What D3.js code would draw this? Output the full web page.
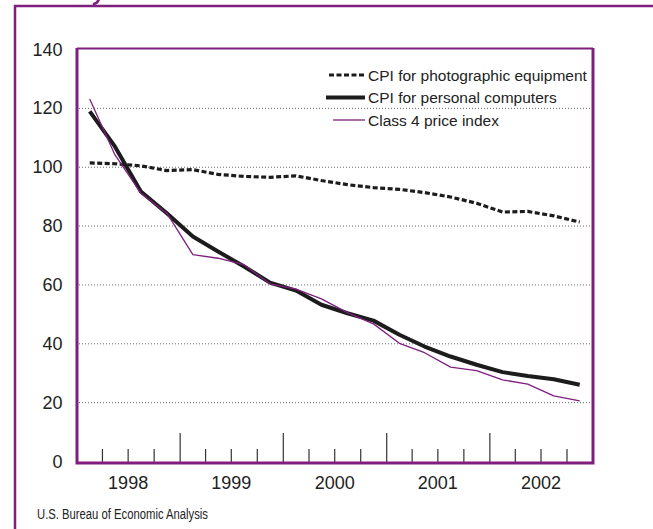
<!DOCTYPE html>
<html>
<head>
<meta charset="utf-8">
<script src="https://cdn.jsdelivr.net/npm/d3@7/dist/d3.min.js"></script>
<style>
  html, body { margin: 0; padding: 0; background: #fff; }
  svg { display: block; font-family: "Liberation Sans", Arial, Helvetica, sans-serif; }
</style>
</head>
<body>
<svg id="chart" width="653" height="529"></svg>
<script>
// ---- data (quarterly, Q1 1998 .. Q4 2002) ----
const quarters = ["1998Q1","1998Q2","1998Q3","1998Q4","1999Q1","1999Q2","1999Q3","1999Q4",
                  "2000Q1","2000Q2","2000Q3","2000Q4","2001Q1","2001Q2","2001Q3","2001Q4",
                  "2002Q1","2002Q2","2002Q3","2002Q4"];
const photoCPI = [101.3, 101.0, 100.3, 98.7, 99.0, 97.4, 96.7, 96.4, 96.9, 95.3,
                  93.9, 92.9, 92.3, 91.2, 89.7, 87.6, 84.6, 84.8, 83.3, 81.2];
const pcCPI    = [118.8, 106.9, 91.6, 84.2, 76.3, 71.2, 66.1, 60.6, 57.9, 53.1,
                  50.2, 47.7, 42.9, 38.9, 35.5, 32.7, 30.2, 28.9, 27.8, 25.9];
const class4   = [123.0, 104.1, 91.0, 84.2, 70.1, 68.9, 66.7, 60.2, 58.4, 55.1,
                  50.4, 46.6, 40.0, 36.8, 31.9, 30.7, 27.6, 26.1, 22.1, 20.4];
const yTicks = [0, 20, 40, 60, 80, 100, 120, 140];
const yearLabels = ["1998", "1999", "2000", "2001", "2002"];
const seriesNames = ["CPI for photographic equipment", "CPI for personal computers", "Class 4 price index"];
const sourceText = "U.S. Bureau of Economic Analysis";

// ---- layout ----
const purple = "#7e1f80";
const ink = "#1c1c1c";
const svg = d3.select("#chart");
const L = 77, R = 593, T = 49, B = 461;

const parseQ = s => new Date(+s.slice(0, 4), (+s.slice(5) - 1) * 3 + 1, 15);
const x = d3.scaleTime().domain([new Date(1998, 0, 1), new Date(2003, 0, 1)]).range([L, R]);
const y = d3.scaleLinear().domain([0, 140]).range([B, T]);

// outer frame (partial, cut by page)
svg.append("path")
  .attr("d", `M15,${529 + 5}V6H${653 + 5}`)
  .attr("fill", "none").attr("stroke", purple).attr("stroke-width", 2.5);

// tail of the cut-off heading above the frame
svg.append("path")
  .attr("d", "M99,-1 Q97.5,3 94,4")
  .attr("fill", "none").attr("stroke", purple).attr("stroke-width", 2.6)
  .attr("stroke-linecap", "round");

// gridlines
svg.append("g").selectAll("line")
  .data(yTicks.filter(v => v > 0 && v < 140))
  .join("line")
  .attr("x1", L + 2).attr("x2", R - 2)
  .attr("y1", d => y(d) + 0.5).attr("y2", d => y(d) + 0.5)
  .attr("stroke", "#666").attr("stroke-width", 1).attr("stroke-dasharray", "1,2");

// y labels
svg.append("g").selectAll("text")
  .data(yTicks).join("text")
  .attr("x", 62.5).attr("y", d => y(d) + 6.5)
  .attr("text-anchor", "end").attr("font-size", 18).attr("fill", "#222")
  .text(d => d);

// x ticks (quarter boundaries)
const qTicks = d3.timeMonth.every(3).range(new Date(1998, 3, 1), new Date(2003, 0, 1));
svg.append("g").selectAll("line")
  .data(qTicks).join("line")
  .attr("x1", d => x(d)).attr("x2", d => x(d))
  .attr("y1", 462).attr("y2", d => d.getMonth() === 0 ? 433 : 449)
  .attr("stroke", "#333").attr("stroke-width", 1.2);

// year labels
svg.append("g").selectAll("text")
  .data(yearLabels).join("text")
  .attr("x", d => x(new Date(+d, 6, 1))).attr("y", 489)
  .attr("text-anchor", "middle").attr("font-size", 18).attr("fill", "#222")
  .text(d => d);

// plot frame
svg.append("line").attr("x1", L).attr("x2", R).attr("y1", 48.5).attr("y2", 48.5)
  .attr("stroke", purple).attr("stroke-width", 2);
svg.append("path")
  .attr("d", `M${L},48V463H${R}V48`)
  .attr("fill", "none").attr("stroke", purple).attr("stroke-width", 3);

// lines
const lineGen = vals => d3.line()
  .x((d, i) => x(parseQ(quarters[i])))
  .y(d => y(d))(vals);

svg.append("path").attr("d", lineGen(photoCPI))
  .attr("fill", "none").attr("stroke", ink).attr("stroke-width", 3.2)
  .attr("stroke-dasharray", "5,2.5");
svg.append("path").attr("d", lineGen(pcCPI))
  .attr("fill", "none").attr("stroke", ink).attr("stroke-width", 4)
  .attr("stroke-linejoin", "round");
svg.append("path").attr("d", lineGen(class4))
  .attr("fill", "none").attr("stroke", purple).attr("stroke-width", 1.3)
  .attr("stroke-linejoin", "round");

// legend
const leg = svg.append("g");
const legY = [75, 97.5, 120];
leg.append("line").attr("x1", 329).attr("x2", 365).attr("y1", legY[0]).attr("y2", legY[0])
  .attr("stroke", ink).attr("stroke-width", 3.2).attr("stroke-dasharray", "5,2.5");
leg.append("line").attr("x1", 326).attr("x2", 365).attr("y1", legY[1]).attr("y2", legY[1])
  .attr("stroke", ink).attr("stroke-width", 4);
leg.append("line").attr("x1", 333).attr("x2", 365).attr("y1", legY[2]).attr("y2", legY[2])
  .attr("stroke", purple).attr("stroke-width", 1.3);
leg.selectAll("text").data(seriesNames).join("text")
  .attr("x", 368).attr("y", (d, i) => legY[i] + 5.6)
  .attr("font-size", 15.5).attr("fill", "#222")
  .text(d => d);

// source
svg.append("text").attr("x", 37).attr("y", 519)
  .attr("font-size", 14).attr("fill", "#222")
  .attr("textLength", 171).attr("lengthAdjust", "spacingAndGlyphs")
  .text(sourceText);
</script>
</body>
</html>
